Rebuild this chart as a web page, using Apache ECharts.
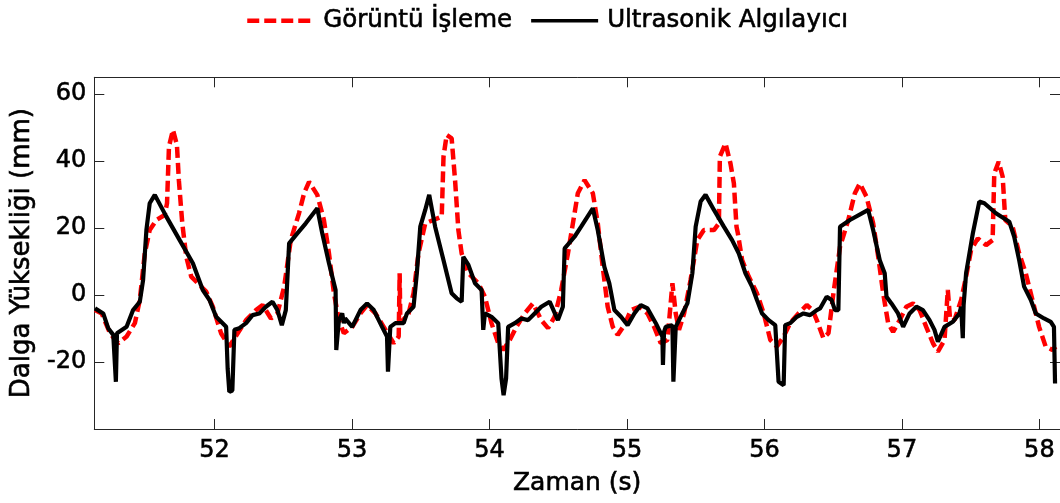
<!DOCTYPE html>
<html>
<head>
<meta charset="utf-8">
<script src="https://cdn.jsdelivr.net/npm/echarts@6/dist/echarts.min.js"></script>
<style>
html,body{margin:0;padding:0;background:#fff;}
#chart{width:1060px;height:503px;}
</style>
</head>
<body>
<div id="chart"></div>
<script>
// Görüntü İşleme (image processing) series
const imageTime = [51.131,51.180,51.240,51.300,51.361,51.421,51.457,51.493,51.529,51.578,51.638,51.655,51.669,51.698,51.727,51.741,51.766,51.795,51.831,51.891,51.940,51.988,52.048,52.108,52.169,52.230,52.302,52.350,52.411,52.458,52.507,52.555,52.615,52.652,52.688,52.748,52.796,52.833,52.869,52.905,52.941,53.002,53.062,53.110,53.171,53.231,53.303,53.340,53.347,53.352,53.412,53.448,53.484,53.533,53.593,53.653,53.666,53.689,53.725,53.750,53.774,53.798,53.847,53.919,53.967,54.015,54.064,54.100,54.148,54.196,54.257,54.317,54.377,54.426,54.474,54.522,54.571,54.619,54.643,54.692,54.752,54.788,54.824,54.860,54.897,54.933,54.981,55.029,55.090,55.150,55.198,55.246,55.295,55.331,55.355,55.379,55.416,55.463,55.512,55.560,55.633,55.669,55.676,55.717,55.753,55.778,55.797,55.807,55.838,55.886,55.946,55.995,56.043,56.091,56.140,56.187,56.248,56.308,56.350,56.381,56.429,56.466,56.502,56.550,56.610,56.658,56.694,56.743,56.791,56.828,56.864,56.900,56.936,56.984,57.032,57.081,57.129,57.177,57.226,57.262,57.310,57.334,57.351,57.382,57.431,57.467,57.503,57.552,57.612,57.660,57.672,57.704,57.733,57.752,57.805,57.853,57.901,57.950,57.998,58.046,58.095,58.119];
const imageHeight = [-4.5,-5.5,-11.4,-14.4,-12.4,-8.4,-1.5,12.4,19.4,22.4,23.9,27.4,44.3,49.3,44.8,34.3,21.4,11.4,5.5,3.0,1.0,-3.5,-11.4,-15.4,-11.4,-7.5,-4.5,-3.0,-7.0,-5.5,2.5,16.4,24.4,30.4,33.8,29.9,22.4,12.4,0.5,-7.5,-11.4,-9.5,-5.5,-3.0,-5.5,-9.5,-14.4,-12.4,6.5,-8.4,-5.5,0.5,12.4,21.4,22.4,23.4,41.3,47.8,46.8,34.3,19.4,12.4,6.5,3.5,-0.5,-8.4,-14.4,-16.4,-13.4,-9.5,-5.5,-2.5,-7.5,-9.9,-6.5,1.5,12.4,24.4,30.4,34.3,30.4,21.4,8.4,-3.5,-9.5,-11.9,-9.0,-4.5,-3.5,-5.5,-9.5,-14.4,-13.4,3.5,-5.5,-10.4,-5.5,4.5,16.4,19.4,19.4,21.4,41.3,45.3,39.3,33.3,20.4,18.4,10.4,5.5,0.5,-5.5,-13.4,-15.4,-12.4,-8.4,-5.5,-3.0,-4.5,-7.5,-12.9,-11.4,0.5,14.4,22.4,30.4,33.3,29.3,21.4,11.4,0.5,-8.4,-11.0,-7.5,-3.5,-2.5,-4.5,-9.5,-14.4,-16.9,-13.4,1.5,-7.5,-7.5,-1.5,5.5,13.4,16.9,14.9,16.4,36.3,39.8,35.3,22.4,20.4,12.4,6.5,-1.5,-9.5,-15.4,-16.4,-15.4];

// Ultrasonik Algılayıcı (ultrasonic sensor) series
const sensorTime = [51.131,51.191,51.227,51.264,51.275,51.283,51.291,51.361,51.408,51.457,51.481,51.505,51.529,51.566,51.650,51.747,51.843,51.915,51.964,52.012,52.085,52.096,52.108,52.130,52.145,52.181,52.230,52.277,52.326,52.374,52.422,52.458,52.490,52.519,52.543,52.592,52.664,52.748,52.784,52.833,52.881,52.886,52.905,52.929,52.941,52.950,53.002,53.062,53.110,53.159,53.219,53.255,53.262,53.279,53.316,53.376,53.400,53.448,53.472,53.497,53.533,53.562,53.605,53.666,53.725,53.762,53.798,53.810,53.847,53.895,53.943,53.955,53.967,54.015,54.064,54.088,54.103,54.121,54.136,54.185,54.232,54.281,54.329,54.377,54.438,54.498,54.534,54.547,54.619,54.667,54.752,54.788,54.836,54.872,54.909,54.957,55.005,55.054,55.101,55.150,55.210,55.258,55.262,55.270,55.282,55.331,55.338,55.355,55.403,55.440,55.476,55.500,55.536,55.572,55.633,55.705,55.765,55.814,55.862,55.910,55.946,55.983,56.031,56.079,56.103,56.140,56.151,56.187,56.236,56.284,56.332,56.381,56.405,56.453,56.489,56.513,56.538,56.550,56.622,56.755,56.791,56.839,56.875,56.888,56.924,56.972,57.009,57.056,57.105,57.153,57.201,57.237,57.262,57.310,57.371,57.418,57.431,57.443,57.449,57.467,57.516,57.563,57.600,57.684,57.781,57.817,57.853,57.889,57.938,57.974,58.034,58.083,58.106,58.114];
const sensorHeight = [-4.0,-5.5,-9.9,-11.9,-12.0,-25.9,-11.4,-9.5,-4.5,-2.0,4.5,19.4,27.4,29.9,23.4,16.4,9.5,1.5,-1.5,-6.5,-9.5,-22.0,-28.9,-28.5,-10.4,-9.9,-8.4,-6.0,-5.5,-3.5,-2.0,-4.5,-9.0,-4.5,15.4,17.9,21.4,25.9,18.4,9.5,1.5,-16.4,-7.5,-5.5,-8.4,-7.0,-9.5,-4.5,-2.5,-4.5,-9.5,-12.4,-22.9,-9.5,-8.4,-8.4,-5.5,-3.5,6.5,20.4,25.4,29.9,20.4,10.4,0.5,-1.0,-2.0,11.4,9.0,3.5,1.5,-10.4,-5.5,-6.5,-8.4,-25.0,-29.9,-25.0,-9.5,-8.4,-7.0,-7.5,-5.5,-3.5,-2.0,-7.5,-3.5,13.9,17.4,20.4,25.9,19.4,8.4,3.5,-4.5,-6.5,-9.0,-5.5,-3.0,-4.0,-8.4,-12.4,-20.9,-11.0,-9.5,-9.0,-25.9,-9.5,-5.5,-2.5,6.5,20.4,27.9,29.9,25.4,20.4,16.4,12.4,6.5,2.5,-1.5,-5.5,-7.5,-9.0,-25.9,-26.9,-9.0,-8.4,-6.5,-5.5,-6.0,-4.5,-4.0,-0.5,-1.5,-4.5,-4.5,20.4,22.4,25.4,19.4,10.4,6.5,-0.5,-2.5,-5.5,-9.5,-5.5,-3.5,-4.5,-7.5,-10.4,-13.9,-9.5,-8.0,-5.5,-3.5,-12.9,-3.0,6.5,18.4,27.9,27.4,24.4,21.9,17.4,10.4,2.5,-1.5,-5.5,-7.0,-8.0,-9.5,-26.4];

const xTicks = [52, 53, 54, 55, 56, 57, 58];
const yTicks = [-20, 0, 20, 40, 60];
const seriesNames = ['Görüntü İşleme', 'Ultrasonik Algılayıcı'];

const zip = (xs, ys) => xs.map((x, i) => [x, ys[i]]);

const FONT = 'DejaVu Sans';
const axisColor = '#262626';
const heavy = {textBorderColor: '#000', textBorderWidth: 0.6};

const chart = echarts.init(document.getElementById('chart'), null, {renderer: 'canvas'});

const xMin = 51.126, xMax = 58.150, yMin = -40, yMax = 65;

function xAxisBase(pos, showLabel) {
  return {
    type: 'value', position: pos, min: xMin, max: xMax, gridIndex: 0,
    axisLine: {show: true, onZero: false, lineStyle: {color: axisColor, width: 1}},
    axisTick: {show: true, inside: true, length: 10, customValues: xTicks, lineStyle: {color: axisColor}},
    axisLabel: Object.assign({show: showLabel, customValues: xTicks, color: '#000', fontFamily: FONT, fontSize: 24, margin: 10}, heavy),
    splitLine: {show: false}
  };
}
function yAxisBase(pos, showLabel) {
  return {
    type: 'value', position: pos, min: yMin, max: yMax, gridIndex: 0,
    axisLine: {show: true, onZero: false, lineStyle: {color: axisColor, width: 1}},
    axisTick: {show: true, inside: true, length: 10, customValues: yTicks, lineStyle: {color: axisColor}},
    axisLabel: Object.assign({show: showLabel, customValues: yTicks, color: '#000', fontFamily: FONT, fontSize: 24, margin: 8}, heavy),
    splitLine: {show: false}
  };
}

const xBottom = Object.assign(xAxisBase('bottom', true), {
  name: 'Zaman (s)', nameLocation: 'middle', nameGap: 42,
  nameTextStyle: Object.assign({color: '#000', fontFamily: FONT, fontSize: 25}, heavy)
});
const yLeft = Object.assign(yAxisBase('left', true), {
  name: 'Dalga Yüksekliği (mm)', nameLocation: 'middle', nameGap: 58, nameRotate: 90,
  nameTextStyle: Object.assign({color: '#000', fontFamily: FONT, fontSize: 26}, heavy)
});

chart.setOption({
  animation: false,
  backgroundColor: '#fff',
  legend: {
    data: [
      {name: seriesNames[0], lineStyle: {width: 4.5, type: [12, 5]}},
      {name: seriesNames[1], lineStyle: {width: 3.5}}
    ],
    left: 240, top: 3,
    itemWidth: 67, itemHeight: 3, itemGap: 17,
    itemStyle: {opacity: 0},
    textStyle: Object.assign({color: '#000', fontFamily: FONT, fontSize: 24.5, padding: [0, 0, 0, 4]}, heavy)
  },
  grid: {left: 94.3, top: 77.3, width: 970, height: 351.7, containLabel: false},
  xAxis: [xBottom, xAxisBase('top', false)],
  yAxis: [yLeft, yAxisBase('right', false)],
  series: [
    {
      name: seriesNames[0], type: 'line', xAxisIndex: 0, yAxisIndex: 0,
      data: zip(imageTime, imageHeight), showSymbol: false, symbol: 'none',
      lineStyle: {color: '#ff0000', width: 4.5, type: [11, 5]},
      itemStyle: {color: '#ff0000'}, z: 2
    },
    {
      name: seriesNames[1], type: 'line', xAxisIndex: 0, yAxisIndex: 0,
      data: zip(sensorTime, sensorHeight), showSymbol: false, symbol: 'none',
      lineStyle: {color: '#000000', width: 4.2},
      itemStyle: {color: '#000000'}, z: 3
    }
  ]
});
</script>
</body>
</html>
